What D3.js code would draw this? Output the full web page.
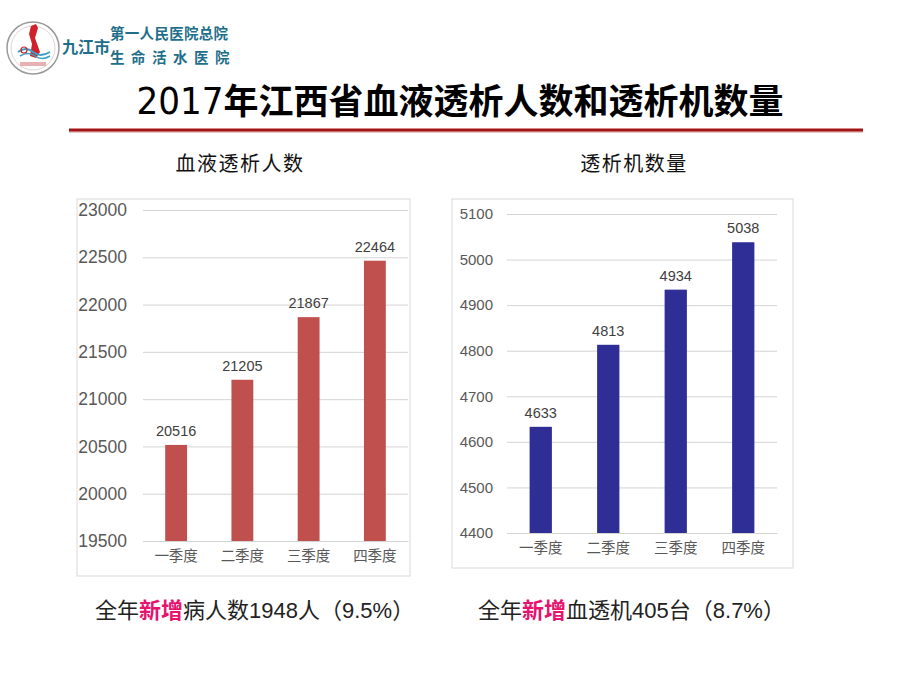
<!DOCTYPE html>
<html><head><meta charset="utf-8">
<script src="https://cdn.jsdelivr.net/npm/d3@7"></script>
<style>body{margin:0;background:#fff}svg{display:block}</style>
</head><body>
<svg id="c" width="920" height="690"></svg>
<script>
const categories = ["一季度","二季度","三季度","四季度"];
const patients = [20516, 21205, 21867, 22464];
const machines = [4633, 4813, 4934, 5038];
const patientTicks = [19500,20000,20500,21000,21500,22000,22500,23000];
const machineTicks = [4400,4500,4600,4700,4800,4900,5000,5100];

const svg = d3.select("#c");
const CJK = "'Noto Sans CJK SC','Noto Sans',sans-serif";
const ARIAL = "'Liberation Sans',Arial,sans-serif";

// Logo
const logo = svg.append("g");
logo.append("circle").attr("cx",33).attr("cy",48).attr("r",26).attr("fill","#fff").attr("stroke","#9a9a9a").attr("stroke-width",1.5);
logo.append("circle").attr("cx",33).attr("cy",48).attr("r",22).attr("fill","none").attr("stroke","#d8c8c8").attr("stroke-width",0.8);
logo.append("path").attr("d","M31,26 L36,24 L38,28 L35,38 L40,52 L36,58 L30,56 L32,44 L29,34 Z").attr("fill","#d0202a");
logo.append("path").attr("d","M18,52 Q26,46 33,52 T50,52").attr("fill","none").attr("stroke","#3aa0c8").attr("stroke-width",2);
logo.append("path").attr("d","M20,56 Q28,51 35,56 T50,56").attr("fill","none").attr("stroke","#3aa0c8").attr("stroke-width",1.5);
logo.append("circle").attr("cx",24).attr("cy",50).attr("r",3).attr("fill","none").attr("stroke","#d0202a").attr("stroke-width",1.2);
logo.append("rect").attr("x",20).attr("y",62).attr("width",26).attr("height",4).attr("fill","#e8b0b0");
const teal = "#1f6f8b";
svg.append("text").attr("x",62).attr("y",53).attr("font-family",CJK).attr("font-weight","bold").attr("font-size",16).attr("fill",teal).text("九江市");
svg.append("text").attr("x",110).attr("y",39).attr("font-family",CJK).attr("font-weight","bold").attr("font-size",14.5).attr("fill",teal).attr("letter-spacing",0.3).text("第一人民医院总院");
svg.append("text").attr("x",110).attr("y",63).attr("font-family",CJK).attr("font-weight","bold").attr("font-size",14.5).attr("fill",teal).attr("letter-spacing",6.5).text("生命活水医院");

// Title
const t = svg.append("text").attr("x",460).attr("y",114).attr("text-anchor","middle")
  .attr("font-family",CJK).attr("font-weight","bold").attr("font-size",35).attr("fill","#000");
t.append("tspan").attr("font-family","'Liberation Sans Narrow','DejaVu Sans Condensed',sans-serif").attr("font-weight","normal").attr("font-size",38).text("2017");
t.append("tspan").text("年江西省血液透析人数和透析机数量");

// Red rule
svg.append("rect").attr("x",69).attr("y",131).attr("width",794).attr("height",2).attr("fill","#e8c8c8");
svg.append("rect").attr("x",69).attr("y",128.5).attr("width",794).attr("height",3).attr("fill","#a31515");

function drawChart(opt){
  const g = svg.append("g");
  g.append("rect").attr("x",opt.box[0]).attr("y",opt.box[1]).attr("width",opt.box[2]-opt.box[0]).attr("height",opt.box[3]-opt.box[1])
    .attr("fill","#fff").attr("stroke","#d9d9d9").attr("stroke-width",1);
  const x = d3.scaleBand().domain(categories).range([opt.x0,opt.x1]).paddingInner(0.67).paddingOuter(0.335);
  const y = d3.scaleLinear().domain(opt.domain).range([opt.y0,opt.y1]);
  const yAxis = d3.axisLeft(y).tickValues(opt.ticks).tickSize(-(opt.x1-opt.x0)).tickPadding(opt.pad).tickFormat(d3.format("d"));
  const ya = g.append("g").attr("transform",`translate(${opt.x0},0)`).call(yAxis);
  ya.select(".domain").remove();
  ya.selectAll(".tick line").attr("stroke","#d4d4d4");
  ya.selectAll(".tick text").attr("font-family",ARIAL).attr("font-size",opt.tickFont).attr("fill","#595959");
  g.selectAll(".bar").data(opt.values).join("rect").attr("class","bar")
    .attr("x",(d,i)=>x(categories[i])).attr("width",x.bandwidth())
    .attr("y",d=>y(d)).attr("height",d=>opt.y0-y(d)).attr("fill",opt.color);
  g.selectAll(".val").data(opt.values).join("text").attr("class","val")
    .attr("x",(d,i)=>x(categories[i])+x.bandwidth()/2).attr("y",d=>y(d)-9)
    .attr("text-anchor","middle").attr("font-family",ARIAL).attr("font-size",14.5).attr("fill","#404040").text(d=>d);
  const xa = g.append("g").attr("transform",`translate(0,${opt.y0})`).call(d3.axisBottom(x).tickSize(0).tickPadding(opt.catPad));
  xa.select(".domain").attr("stroke","#d4d4d4");
  xa.selectAll(".tick text").attr("font-family",CJK).attr("font-size",14.5).attr("fill","#595959");
  svg.append("text").attr("x",opt.titleX).attr("y",171).attr("text-anchor","middle").attr("font-family",CJK)
    .attr("font-size",20).attr("letter-spacing",1.5).attr("fill","#111").text(opt.title);
}

drawChart({box:[77,199,410,576], x0:143, x1:408, y0:541, y1:210, domain:[19500,23000], ticks:patientTicks,
  values:patients, color:"#c0504d", tickFont:17.5, pad:16, catPad:10, title:"血液透析人数", titleX:240});
drawChart({box:[452,199,793,568], x0:507, x1:777, y0:533, y1:214, domain:[4400,5100], ticks:machineTicks,
  values:machines, color:"#2e2e96", tickFont:15, pad:14, catPad:10, title:"透析机数量", titleX:634});

// Bottom notes
function note(x, parts){
  const tx = svg.append("text").attr("x",x).attr("y",618).attr("font-family",CJK).attr("font-size",22).attr("fill","#222");
  parts.forEach(p=>{ const s = tx.append("tspan").text(p[0]); if(p[1]) s.attr("fill",p[1]).attr("font-weight","bold"); if(p[2]) s.attr("font-family",p[2]); });
}
note(95, [["全年"],["新增","#e6136f"],["病人数"],["1948",null,ARIAL],["人（"],["9.5%",null,ARIAL],["）"]]);
note(478, [["全年"],["新增","#e6136f"],["血透机"],["405",null,ARIAL],["台（"],["8.7%",null,ARIAL],["）"]]);
</script>
</body></html>
